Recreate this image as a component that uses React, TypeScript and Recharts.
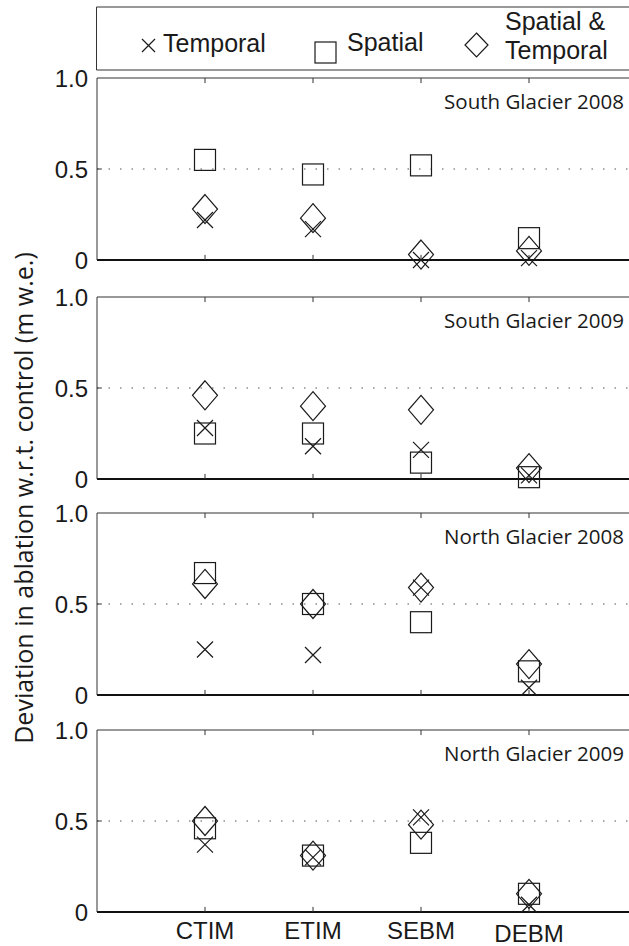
import React from "react";
import { ScatterChart, Scatter, XAxis, YAxis, ReferenceLine } from "recharts";

const categories = ["CTIM", "ETIM", "SEBM", "DEBM"];
const panelTitles = [
  "South Glacier 2008",
  "South Glacier 2009",
  "North Glacier 2008",
  "North Glacier 2009",
];
const seriesNames = ["Temporal", "Spatial", "Spatial & Temporal"];
// deviation (m w.e.) per panel, per model
const temporal = [
  [0.22, 0.17, 0.0, 0.01],
  [0.28, 0.18, 0.16, 0.02],
  [0.25, 0.22, 0.59, 0.04],
  [0.37, 0.3, 0.52, 0.04],
];
const spatial = [
  [0.55, 0.47, 0.52, 0.12],
  [0.25, 0.25, 0.09, 0.01],
  [0.67, 0.5, 0.4, 0.13],
  [0.46, 0.31, 0.38, 0.1],
];
const spatialTemporal = [
  [0.28, 0.23, 0.03, 0.05],
  [0.46, 0.4, 0.38, 0.06],
  [0.61, 0.5, 0.59, 0.17],
  [0.5, 0.31, 0.48, 0.1],
];
const yTicks = [0, 0.5, 1];

const INK = "#1a1a1a";
const SANS = "'Liberation Sans', Arial, Helvetica, sans-serif";
const HUMANIST = "'Open Sans', 'Noto Sans', sans-serif";
const PANEL_TOPS = [78, 297, 513, 730];
const PLOT_H = 182;

const crossShape = (props: any) => {
  const { cx, cy } = props;
  const h = 8;
  return (
    <path
      d={`M${cx - h},${cy - h}L${cx + h},${cy + h}M${cx - h},${cy + h}L${cx + h},${cy - h}`}
      stroke={INK}
      strokeWidth={1.2}
      fill="none"
    />
  );
};

const squareShape = (props: any) => {
  const { cx, cy } = props;
  const h = 10.5;
  return (
    <rect x={cx - h} y={cy - h} width={2 * h} height={2 * h} stroke={INK} strokeWidth={1.2} fill="none" />
  );
};

const diamondShape = (props: any) => {
  const { cx, cy } = props;
  const w = 12.5;
  const h = 14.5;
  return (
    <path
      d={`M${cx},${cy - h}L${cx + w},${cy}L${cx},${cy + h}L${cx - w},${cy}Z`}
      stroke={INK}
      strokeWidth={1.2}
      fill="none"
    />
  );
};

const toPoints = (vals: number[]) => vals.map((v, i) => ({ x: i + 1, y: v }));

function CategoryTick(props: any) {
  const { x, y, payload } = props;
  const idx = payload.value - 1;
  // the last label sits a little lower in the original
  const nudge = idx === 3 ? 3 : 0;
  return (
    <text x={x} y={y + nudge} dy="0.71em" textAnchor="middle" fontFamily={SANS} fontSize={24} fill={INK}>
      {categories[idx]}
    </text>
  );
}

function Panel({ index }: { index: number }) {
  const last = index === panelTitles.length - 1;
  const xAxisH = last ? 40 : 0;
  const bottom = last ? 0 : 20;
  const height = PLOT_H + 20 + bottom + xAxisH;
  const tickPos = categories.map((_, i) => i + 1);
  return (
    <ScatterChart
      width={640}
      height={height}
      margin={{ top: 20, right: 3, bottom, left: 0 }}
      style={{ position: "absolute", left: 0, top: PANEL_TOPS[index] - 20 }}
    >
      <XAxis
        type="number"
        dataKey="x"
        domain={[0, 5]}
        ticks={tickPos}
        hide={!last}
        height={xAxisH}
        axisLine={false}
        tickLine={false}
        tickSize={6}
        tickMargin={4}
        tick={<CategoryTick />}
      />
      <YAxis
        type="number"
        dataKey="y"
        domain={[0, 1]}
        ticks={yTicks}
        width={97}
        axisLine={{ stroke: "#333", strokeWidth: 1 }}
        tickLine={false}
        tickSize={6}
        tickMargin={3}
        tickFormatter={(v: number) => (v === 1 ? "1.0" : String(v))}
        tick={{ fontFamily: SANS, fontSize: 24, fill: INK }}
      />
      <ReferenceLine y={0.5} stroke="#555" strokeWidth={1.2} strokeDasharray="1.5 10" />
      <ReferenceLine y={1} stroke="#333" strokeWidth={1} />
      <ReferenceLine y={0} stroke="#111" strokeWidth={2} />
      {tickPos.map((t) => (
        <ReferenceLine
          key={`b${t}`}
          segment={[{ x: t, y: 0 }, { x: t, y: 0.028 }]}
          stroke="#333"
          strokeWidth={1}
        />
      ))}
      {tickPos.map((t) => (
        <ReferenceLine
          key={`t${t}`}
          segment={[{ x: t, y: 1 }, { x: t, y: 0.972 }]}
          stroke="#333"
          strokeWidth={1}
        />
      ))}
      <ReferenceLine segment={[{ x: 0, y: 0.5 }, { x: 0.045, y: 0.5 }]} stroke="#333" strokeWidth={1} />
      <Scatter
        name={seriesNames[1]}
        data={toPoints(spatial[index])}
        shape={squareShape}
        isAnimationActive={false}
      />
      <Scatter
        name={seriesNames[2]}
        data={toPoints(spatialTemporal[index])}
        shape={diamondShape}
        isAnimationActive={false}
      />
      <Scatter
        name={seriesNames[0]}
        data={toPoints(temporal[index])}
        shape={crossShape}
        isAnimationActive={false}
      />
    </ScatterChart>
  );
}

function Overlay() {
  return (
    <svg width={629} height={946} style={{ position: "absolute", left: 0, top: 0, pointerEvents: "none" }}>
      {/* legend box, open on the right like the original */}
      <path d="M640,7H96.5V70H640" fill="none" stroke="#333" strokeWidth={1} />
      <path d="M142,39L155,52M142,52L155,39" stroke={INK} strokeWidth={1.2} fill="none" />
      <text x={163} y={52} fontFamily={SANS} fontSize={25} fill={INK}>
        {seriesNames[0]}
      </text>
      <rect x={315} y={42} width={21} height={21} fill="none" stroke={INK} strokeWidth={1.2} />
      <text x={347} y={51} fontFamily={SANS} fontSize={25} fill={INK}>
        {seriesNames[1]}
      </text>
      <path d="M476.5,33L488,45L476.5,57L465,45Z" fill="none" stroke={INK} strokeWidth={1.2} />
      <text x={505} y={30} fontFamily={SANS} fontSize={25} fill={INK}>
        Spatial &amp;
      </text>
      <text x={505} y={59} fontFamily={SANS} fontSize={25} fill={INK}>
        Temporal
      </text>
      {panelTitles.map((t, i) => (
        <text
          key={t}
          x={624}
          y={PANEL_TOPS[i] + 31}
          textAnchor="end"
          fontFamily={HUMANIST}
          fontSize={20.5}
          fill={INK}
        >
          {t}
        </text>
      ))}
      <text
        transform="translate(33,498) rotate(-90)"
        textAnchor="middle"
        fontFamily={HUMANIST}
        fontSize={25}
        fill={INK}
      >
        Deviation in ablation w.r.t. control (m w.e.)
      </text>
    </svg>
  );
}

export default function App() {
  return (
    <div
      style={{
        position: "fixed",
        left: 0,
        top: 0,
        width: 629,
        height: 946,
        overflow: "hidden",
        background: "#fff",
      }}
    >
      {panelTitles.map((_, i) => (
        <Panel key={i} index={i} />
      ))}
      <Overlay />
    </div>
  );
}
